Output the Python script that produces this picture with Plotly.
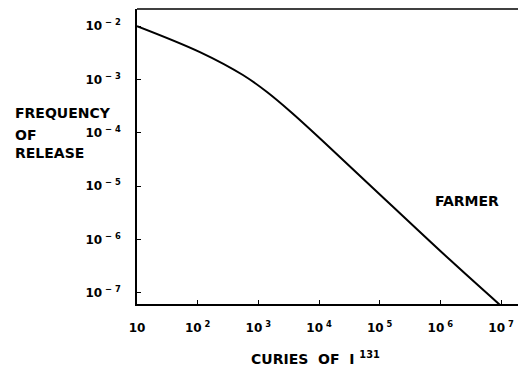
import plotly.graph_objects as go

# Curve (curies of I-131 vs frequency of release)
curies = [10, 109, 557, 1390, 3440, 1.25e4, 7.73e4, 1.44e6, 9.55e6]
frequency = [1.0e-2, 3.26e-3, 1.21e-3, 5.8e-4, 2.45e-4, 6.44e-5, 9.25e-6, 4.15e-7, 5.96e-8]

x_tickvals = [1e1, 1e2, 1e3, 1e4, 1e5, 1e6, 1e7]
x_ticktext = ["10", "10<sup> 2</sup>", "10<sup> 3</sup>", "10<sup> 4</sup>",
              "10<sup> 5</sup>", "10<sup> 6</sup>", "10<sup> 7</sup>"]
y_tickvals = [1e-2, 1e-3, 1e-4, 1e-5, 1e-6, 1e-7]
y_ticktext = ["10<sup> − 2</sup>", "10<sup> − 3</sup>", "10<sup> − 4</sup>",
              "10<sup> − 5</sup>", "10<sup> − 6</sup>", "10<sup> − 7</sup>"]
y_title_lines = ["FREQUENCY", "OF", "RELEASE"]

FONT = "DejaVu Sans"

fig = go.Figure()
fig.add_trace(go.Scatter(x=curies, y=frequency, mode="lines",
                         line=dict(color="black", width=2, shape="spline", smoothing=1.0),
                         showlegend=False))

fig.update_layout(
    width=518, height=377,
    margin=dict(l=137, r=0, t=9, b=73),
    paper_bgcolor="white", plot_bgcolor="white",
    font=dict(family=FONT, color="black", size=13),
    xaxis=dict(type="log", range=[1.0, 7.28], tickvals=x_tickvals, ticktext=x_ticktext,
               showline=True, linecolor="black", linewidth=1.5, mirror=False,
               ticks="inside", ticklen=4, tickcolor="black", showgrid=False, zeroline=False,
               tickfont=dict(family=FONT, size=12, weight="bold"), ticklabelstandoff=12),
    yaxis=dict(type="log", range=[-7.21, -1.68], tickvals=y_tickvals, ticktext=y_ticktext,
               showline=True, linecolor="black", linewidth=1.5,
               ticks="inside", ticklen=4, tickcolor="black", showgrid=False, zeroline=False,
               tickfont=dict(family=FONT, size=12, weight="bold"), ticklabelstandoff=12),
)

# top frame line
fig.add_shape(type="line", xref="paper", yref="paper", x0=0, x1=1, y0=1, y1=1,
              line=dict(color="black", width=1.5))

for line_text, py in zip(y_title_lines, [112.5, 134.5, 153]):
    fig.add_annotation(xref="paper", yref="paper", x=-124/381, y=(304-py)/295,
                       xanchor="left", yanchor="middle", showarrow=False,
                       text=line_text, font=dict(family=FONT, size=14, weight="bold"))
fig.add_annotation(xref="paper", yref="paper", x=(249-137)/381, y=-(358-304)/295,
                   xanchor="left", yanchor="middle", showarrow=False,
                   text="CURIES  OF  I <sup>131</sup>",
                   font=dict(family=FONT, size=14, weight="bold"))
fig.add_annotation(xref="paper", yref="paper", x=(467-137)/381, y=(304-201)/295,
                   xanchor="center", yanchor="middle", showarrow=False,
                   text="FARMER", font=dict(family=FONT, size=14, weight="bold"))

fig.write_html("out.html")
